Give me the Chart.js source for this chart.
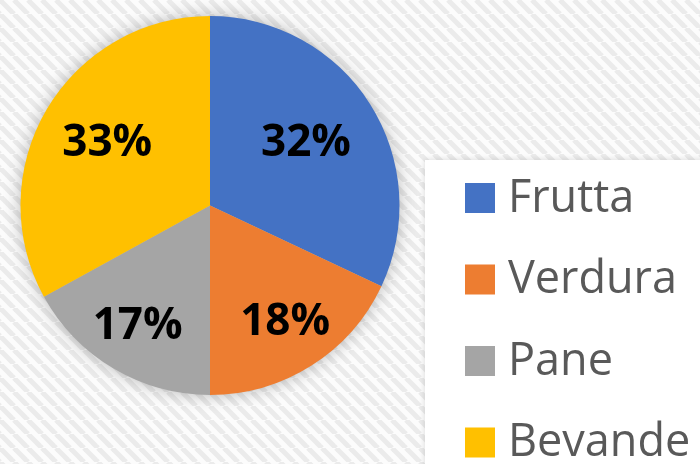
<!DOCTYPE html>
<html>
<head>
<meta charset="utf-8">
<script src="https://cdn.jsdelivr.net/npm/chart.js@4/dist/chart.umd.min.js"></script>
<style>
  html, body { margin: 0; padding: 0; background: #fff; }
  canvas { display: block; }
</style>
</head>
<body>
<canvas id="chart" width="700" height="464"></canvas>
<script>
// Spesa per categoria
const categories = ['Frutta', 'Verdura', 'Pane', 'Bevande'];
const shares = [32, 18, 17, 33];
const sliceColors = ['#4472C4', '#ED7D31', '#A5A5A5', '#FFC000'];

// how far out (fraction of radius) each percentage label sits
const labelDistance = [0.60, 0.74, 0.75, 0.63];

const legendPanel = { x: 425, y: 160, boxX: 465, firstRow: 198, rowGap: 81.5, box: 30, textX: 508 };

const pieDecor = {
    id: 'pieDecor',
    beforeDraw(chart) {
        const ctx = chart.ctx;
        // diagonal striped background, softened
        const tile = document.createElement('canvas');
        const p = 14;
        tile.width = p; tile.height = p;
        const t = tile.getContext('2d');
        t.fillStyle = '#fcfcfc';
        t.fillRect(0, 0, p, p);
        t.strokeStyle = '#ebebeb';
        t.lineWidth = 5;
        [-p, 0, p].forEach(x0 => {
            t.beginPath();
            t.moveTo(x0, 0);
            t.lineTo(x0 + p, p);
            t.stroke();
        });
        ctx.save();
        ctx.fillStyle = ctx.createPattern(tile, 'repeat');
        ctx.fillRect(0, 0, chart.width, chart.height);

        // white legend panel
        ctx.shadowColor = 'rgba(0,0,0,0.15)';
        ctx.shadowBlur = 6;
        ctx.fillStyle = '#ffffff';
        ctx.fillRect(legendPanel.x, legendPanel.y, chart.width, chart.height);
        ctx.restore();
    },
    beforeDatasetsDraw(chart) {
        // soft shadow round the pie
        const arc = chart.getDatasetMeta(0).data[0];
        const ctx = chart.ctx;
        ctx.save();
        ctx.shadowColor = 'rgba(0,0,0,0.3)';
        ctx.shadowBlur = 18;
        ctx.fillStyle = '#bbbbbb';
        ctx.beginPath();
        ctx.arc(arc.x, arc.y, arc.outerRadius - 1, 0, Math.PI * 2);
        ctx.fill();
        ctx.restore();
    },
    afterDatasetsDraw(chart) {
        const ctx = chart.ctx;
        const ds = chart.data.datasets[0];
        const total = ds.data.reduce((a, b) => a + b, 0);
        ctx.save();
        ctx.font = 'bold 44px "Open Sans"';
        ctx.fillStyle = '#000000';
        ctx.textAlign = 'center';
        ctx.textBaseline = 'middle';
        chart.getDatasetMeta(0).data.forEach((arc, i) => {
            const { x, y, startAngle, endAngle, outerRadius } = arc.getProps(['x', 'y', 'startAngle', 'endAngle', 'outerRadius'], true);
            const mid = (startAngle + endAngle) / 2;
            const r = outerRadius * labelDistance[i];
            const pct = Math.round(ds.data[i] / total * 100) + '%';
            ctx.fillText(pct, x + Math.cos(mid) * r, y + Math.sin(mid) * r - 1);
        });
        ctx.restore();
    },
    afterDraw(chart) {
        const ctx = chart.ctx;
        const ds = chart.data.datasets[0];
        ctx.save();
        ctx.font = '500 45px "Open Sans"';
        ctx.textBaseline = 'middle';
        chart.data.labels.forEach((label, i) => {
            const cy = legendPanel.firstRow + i * legendPanel.rowGap;
            ctx.fillStyle = ds.backgroundColor[i];
            ctx.fillRect(legendPanel.boxX, cy - legendPanel.box / 2, legendPanel.box, legendPanel.box);
            ctx.fillStyle = '#595959';
            ctx.fillText(label, legendPanel.textX, cy + 1);
        });
        ctx.restore();
    }
};

new Chart(document.getElementById('chart'), {
    type: 'pie',
    data: {
        labels: categories,
        datasets: [{
            data: shares,
            backgroundColor: sliceColors,
            borderWidth: 0
        }]
    },
    options: {
        responsive: false,
        animation: false,
        devicePixelRatio: 1,
        layout: { padding: { left: 20, top: 16, right: 300, bottom: 69 } },
        plugins: {
            legend: { display: false },
            tooltip: { enabled: false }
        }
    },
    plugins: [pieDecor]
});
</script>
</body>
</html>
